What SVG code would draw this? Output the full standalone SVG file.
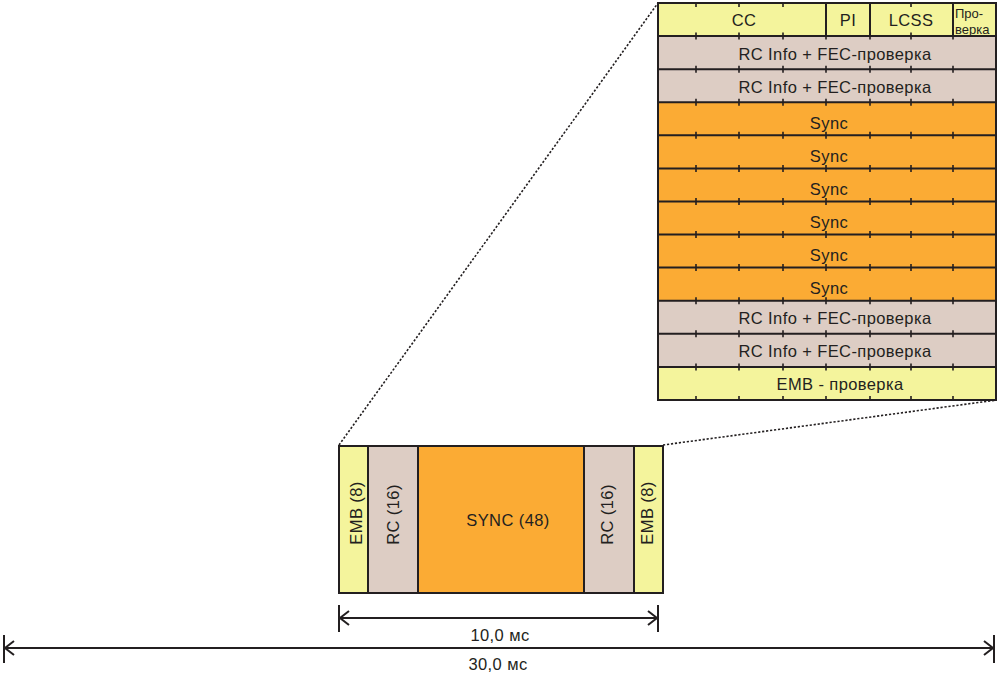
<svg xmlns="http://www.w3.org/2000/svg" xmlns:xlink="http://www.w3.org/1999/xlink" width="999" height="676" viewBox="0 0 999 676">
<style>
.y{fill:#F4F49C}.t{fill:#DDCDC4}.o{fill:#FBAB34}
.ln{stroke:#231F20;stroke-width:2;fill:none}
.tk{stroke:#231F20;stroke-width:1.6;fill:none}
.dot{stroke:#231F20;stroke-width:1.6;fill:none;stroke-dasharray:2.2 1.8}
.tx{font-family:"Liberation Sans",Arial,sans-serif;font-size:16.5px;letter-spacing:0.4px;fill:#231F20;text-anchor:middle}
.sm{font-family:"Liberation Sans",Arial,sans-serif;font-size:13px;fill:#231F20}
</style>
<defs>
<path id="tickrow" class="tk" d="M696 -3.5v7M739 -3.5v7M783 -3.5v7M826 -3.5v7M870 -3.5v7M911 -3.5v7M953 -3.5v7"/>
</defs>
<rect width="999" height="676" fill="#fff"/>

<g id="connectors">
<path class="dot" d="M339 445 L658 3"/>
<path class="dot" d="M663 445 L997 400"/>
<path class="ln" d="M339 618 H658 M339 605 V632 M658 605 V632 M349 611 L340 618 L349 625 M648 611 L657 618 L648 625"/>
<path class="ln" d="M4 648 H994 M4 635 V663 M994 635 V663 M14 641 L5 648 L14 655 M984 641 L993 648 L984 655"/>
<text class="tx" x="500" y="641">10,0 мс</text>
<text class="tx" x="498" y="670">30,0 мс</text>
</g>

<g id="frame-table">
<rect class="y" x="658" y="3" width="338" height="33.1"/>
<rect class="t" x="658" y="36.1" width="338" height="66.1"/>
<rect class="o" x="658" y="102.2" width="338" height="198.5"/>
<rect class="t" x="658" y="300.7" width="338" height="66.2"/>
<rect class="y" x="658" y="366.9" width="338" height="33.1"/>
<path class="ln" d="M658 36.1H996M658 69.2H996M658 102.2H996M658 135.3H996M658 168.4H996M658 201.5H996M658 234.6H996M658 267.6H996M658 300.7H996M658 333.8H996M658 366.9H996"/>
<path class="ln" d="M826 3V36.1M870 3V36.1M953 3V36.1"/>
<rect class="ln" x="658" y="3" width="338" height="397"/>
<use xlink:href="#tickrow" y="36.1"/>
<use xlink:href="#tickrow" y="69.2"/>
<use xlink:href="#tickrow" y="102.2"/>
<use xlink:href="#tickrow" y="135.3"/>
<use xlink:href="#tickrow" y="168.4"/>
<use xlink:href="#tickrow" y="201.5"/>
<use xlink:href="#tickrow" y="234.6"/>
<use xlink:href="#tickrow" y="267.6"/>
<use xlink:href="#tickrow" y="300.7"/>
<use xlink:href="#tickrow" y="333.8"/>
<use xlink:href="#tickrow" y="366.9"/>
<path class="tk" d="M696 3v4M739 3v4M783 3v4M911 3v4"/>
<path class="tk" d="M696 400v-4M739 400v-4M783 400v-4M826 400v-4M870 400v-4M911 400v-4M953 400v-4"/>
<text class="tx" x="744" y="26">CC</text>
<text class="tx" x="848" y="26">PI</text>
<text class="tx" x="911" y="26">LCSS</text>
<text class="sm" x="955" y="18">Про-</text>
<text class="sm" x="955" y="34">верка</text>
<text class="tx" x="835" y="59.5">RC Info + FEC-проверка</text>
<text class="tx" x="835" y="92.5">RC Info + FEC-проверка</text>
<text class="tx" x="829" y="129">Sync</text>
<text class="tx" x="829" y="162">Sync</text>
<text class="tx" x="829" y="195">Sync</text>
<text class="tx" x="829" y="228">Sync</text>
<text class="tx" x="829" y="261">Sync</text>
<text class="tx" x="829" y="294">Sync</text>
<text class="tx" x="835" y="323.5">RC Info + FEC-проверка</text>
<text class="tx" x="835" y="356.5">RC Info + FEC-проверка</text>
<text class="tx" x="840" y="389.5">EMB - проверка</text>
</g>

<g id="burst">
<rect class="y" x="339" y="446" width="29" height="147"/>
<rect class="t" x="368" y="446" width="50" height="147"/>
<rect class="o" x="418" y="446" width="166" height="147"/>
<rect class="t" x="584" y="446" width="50" height="147"/>
<rect class="y" x="634" y="446" width="29" height="147"/>
<path class="ln" d="M368 446V593M418 446V593M584 446V593M634 446V593"/>
<rect class="ln" x="339" y="446" width="324" height="147"/>
<text class="tx" x="508" y="526">SYNC (48)</text>
<text class="tx" transform="translate(362 513) rotate(-90)">EMB (8)</text>
<text class="tx" transform="translate(398.5 514.5) rotate(-90)">RC (16)</text>
<text class="tx" transform="translate(612.5 514.5) rotate(-90)">RC (16)</text>
<text class="tx" transform="translate(652.5 513) rotate(-90)">EMB (8)</text>
</g>
</svg>
